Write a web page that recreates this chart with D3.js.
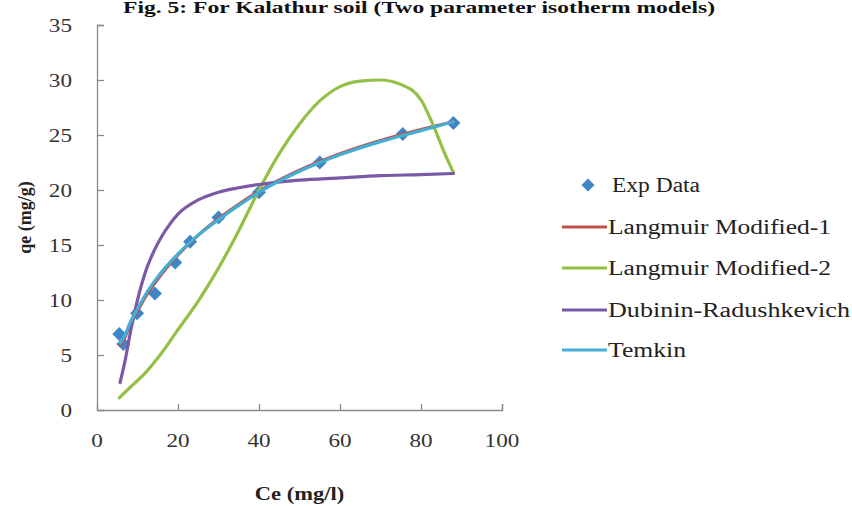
<!DOCTYPE html>
<html><head><meta charset="utf-8">
<script src="https://cdn.jsdelivr.net/npm/d3@7/dist/d3.min.js"></script>
<style>body{margin:0;background:#fff}svg{display:block}</style>
</head><body>
<script>
const title = "Fig. 5: For Kalathur soil (Two parameter isotherm models)";
const xTicks = [0, 20, 40, 60, 80, 100];
const yTicks = [0, 5, 10, 15, 20, 25, 30, 35];
const seriesNames = ["Exp Data", "Langmuir Modified-1", "Langmuir Modified-2", "Dubinin-Radushkevich", "Temkin"];

const expCe = [5.5, 6.5, 9.9, 14.3, 19.3, 23, 30, 40, 55, 75.5, 88];
const expQe = [6.9, 6.0, 8.8, 10.6, 13.4, 15.3, 17.5, 19.8, 22.5, 25.1, 26.1];

const lm1Ce = [5.8, 7, 8, 10, 12, 15, 20, 25, 30, 35, 40, 50, 60, 70, 80, 88];
const lm1Qe = [5.9, 6.7, 7.6, 9.0, 10.3, 11.9, 14.1, 15.9, 17.4, 18.7, 19.9, 21.8, 23.3, 24.5, 25.5, 26.2];

const lm2Ce = [5.5, 8, 12, 16, 20, 25, 30, 35, 40, 45, 50, 55, 60, 65, 70, 75, 80, 83, 86, 88];
const lm2Qe = [1.1, 2.0, 3.4, 5.2, 7.3, 9.9, 12.9, 16.3, 20.0, 23.3, 26.0, 28.1, 29.4, 29.9, 30.0, 29.6, 28.2, 25.9, 23.2, 21.6];

const drCe = [5.7, 7, 8, 10, 12, 14, 16, 18, 20, 25, 30, 35, 40, 50, 60, 70, 80, 88];
const drQe = [2.5, 4.6, 6.6, 10.0, 12.6, 14.4, 15.8, 16.9, 17.8, 19.1, 19.8, 20.2, 20.5, 20.9, 21.1, 21.3, 21.4, 21.5];

const tkCe = [5.8, 7, 8, 10, 12, 15, 20, 25, 30, 35, 40, 50, 60, 70, 80, 88];
const tkQe = [6.1, 6.9, 7.8, 9.2, 10.5, 12.1, 14.2, 15.9, 17.3, 18.6, 19.8, 21.7, 23.2, 24.4, 25.4, 26.2];

const colors = {exp:"#3f86c8", lm1:"#c0504d", lm2:"#93c047", dr:"#7a5aa6", tk:"#45aed4"};

const W = 852, H = 506;
const svg = d3.select("body").append("svg").attr("width", W).attr("height", H);
const x = d3.scaleLinear().domain([0, 100]).range([97, 502]);
const y = d3.scaleLinear().domain([0, 35]).range([410, 25]);
const serif = "'Liberation Serif','Times New Roman',serif";

// title
svg.append("text").attr("x", 123).attr("y", 13).attr("textLength", 592).attr("lengthAdjust", "spacingAndGlyphs")
  .attr("font-family", serif).attr("font-weight", "bold").attr("font-size", 16).attr("fill", "#111").text(title);

// axes
const yAxis = d3.axisRight(y).tickValues(yTicks).tickSize(7).tickFormat("");
const gy = svg.append("g").attr("transform", `translate(${x(0)},0)`).call(yAxis);
const xAxis = d3.axisTop(x).tickValues(xTicks).tickSize(6).tickFormat("");
const gx = svg.append("g").attr("transform", `translate(0,${y(0)})`).call(xAxis);
[gx, gy].forEach(g => { g.select(".domain").attr("stroke", "#8a8a8a").attr("stroke-width", 1.3);
  g.selectAll(".tick line").attr("stroke", "#8a8a8a").attr("stroke-width", 1.3); });
gx.selectAll(".tick").filter(d => d === 0).select("line").remove();
gy.selectAll(".tick").filter(d => d === 0).select("line").remove();

function stretched(parent, tx, ty, anchor, sx, txt, size, weight) {
  const g = parent.append("g").attr("transform", `translate(${tx},${ty}) scale(${sx},1)`);
  return g.append("text").attr("text-anchor", anchor).attr("font-family", serif)
    .attr("font-size", size).attr("font-weight", weight || "normal").attr("fill", "#333").text(txt);
}
yTicks.forEach(v => stretched(svg, 72, y(v) + 6.5, "end", 1.22, String(v), 19));
xTicks.forEach(v => stretched(svg, x(v), 447, "middle", 1.22, String(v), 19));

// axis titles
svg.append("text").attr("transform", `translate(31,${(y(0)+y(35))/2}) rotate(-90)`).attr("text-anchor", "middle")
  .attr("font-family", serif).attr("font-weight", "bold").attr("font-size", 18).attr("fill", "#222").text("qe (mg/g)");
stretched(svg, (x(0)+x(100))/2, 500, "middle", 1.25, "Ce (mg/l)", 18, "bold").attr("fill", "#222");

// markers
const diamond = s => `M0,${-s}L${s},0L0,${s}L${-s},0Z`;
svg.append("g").selectAll("path").data(expCe.map((c, i) => [c, expQe[i]])).join("path")
  .attr("transform", d => `translate(${x(d[0])},${y(d[1])})`).attr("d", diamond(7)).attr("fill", colors.exp);

const line = d3.line().x(d => x(d[0])).y(d => y(d[1])).curve(d3.curveMonotoneX);
const curves = [[lm1Ce, lm1Qe, colors.lm1], [lm2Ce, lm2Qe, colors.lm2], [drCe, drQe, colors.dr], [tkCe, tkQe, colors.tk]];
curves.forEach(([cs, qs, col]) => {
  svg.append("path").datum(cs.map((c, i) => [c, qs[i]])).attr("d", line)
    .attr("fill", "none").attr("stroke", col).attr("stroke-width", 3.2).attr("stroke-linecap", "round");
});

// legend
const lg = svg.append("g");
const legY = [185, 227, 268, 310, 350];
const legCols = [colors.exp, colors.lm1, colors.lm2, colors.dr, colors.tk];
const legLen = [88, 223, 223, 242, 78];
seriesNames.forEach((n, i) => {
  if (i === 0) {
    lg.append("path").attr("transform", `translate(588,${legY[i]})`).attr("d", diamond(6.5)).attr("fill", legCols[i]);
    lg.append("text").attr("x", 612).attr("y", legY[i] + 6.5).attr("textLength", legLen[i]).attr("lengthAdjust", "spacingAndGlyphs")
      .attr("font-family", serif).attr("font-size", 20).attr("fill", "#222").text(n);
  } else {
    lg.append("line").attr("x1", 562).attr("x2", 607).attr("y1", legY[i]).attr("y2", legY[i])
      .attr("stroke", legCols[i]).attr("stroke-width", 3.2);
    lg.append("text").attr("x", 608).attr("y", legY[i] + 6.5).attr("textLength", legLen[i]).attr("lengthAdjust", "spacingAndGlyphs")
      .attr("font-family", serif).attr("font-size", 20).attr("fill", "#222").text(n);
  }
});
</script>
</body></html>
